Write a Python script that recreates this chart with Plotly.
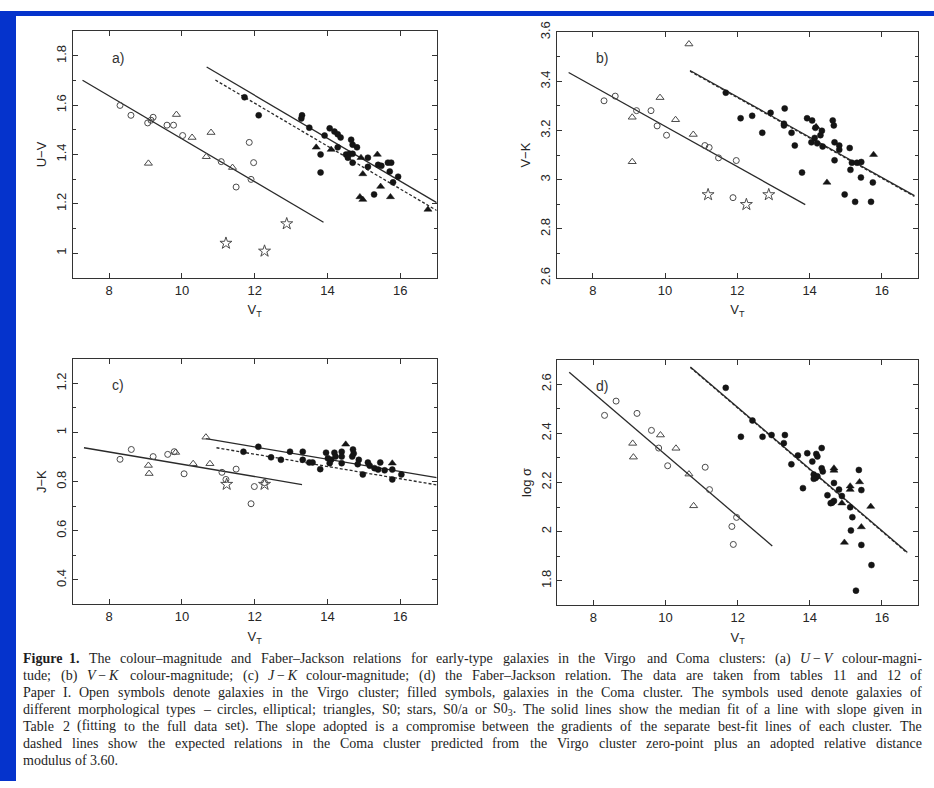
import re
import plotly.graph_objects as go

# ---------------------------------------------------------------
# (a) U-V colour-magnitude
a_virgo_circ_x = [8.30, 8.60, 9.06, 9.15, 9.21, 9.59, 9.77, 10.02, 11.08, 11.85, 11.49, 11.97, 11.90]
a_virgo_circ_y = [1.599, 1.559, 1.528, 1.539, 1.551, 1.519, 1.519, 1.477, 1.371, 1.449, 1.268, 1.367, 1.299]
a_virgo_tri_x = [10.28, 9.85, 10.80, 9.08, 10.67, 11.39]
a_virgo_tri_y = [1.469, 1.562, 1.489, 1.364, 1.391, 1.347]
a_virgo_star_x = [11.21, 12.27, 12.88]
a_virgo_star_y = [1.040, 1.008, 1.119]
a_coma_circ_x = [11.72, 12.11, 13.30, 13.28, 13.50, 14.06, 14.19, 14.28, 14.36, 13.92, 13.81, 14.28,
                 14.65, 14.69, 14.81, 14.51, 14.61, 14.69, 14.56, 15.11, 14.69, 15.39, 15.48, 15.11,
                 15.66, 15.75, 15.71, 15.94, 13.81, 15.80, 15.28]
a_coma_circ_y = [1.632, 1.559, 1.559, 1.546, 1.509, 1.506, 1.493, 1.482, 1.469, 1.477, 1.400, 1.429,
                 1.460, 1.440, 1.429, 1.400, 1.403, 1.403, 1.387, 1.387, 1.367, 1.358, 1.354, 1.350,
                 1.367, 1.367, 1.331, 1.310, 1.327, 1.287, 1.238]
a_coma_tri_x = [13.69, 14.10, 14.92, 15.37, 14.97, 15.46, 14.89, 14.97, 15.73, 16.76]
a_coma_tri_y = [1.429, 1.420, 1.387, 1.400, 1.321, 1.270, 1.228, 1.217, 1.228, 1.177]

# (b) V-K colour-magnitude
b_virgo_circ_x = [8.31, 8.62, 9.21, 9.61, 9.78, 10.04, 11.10, 11.22, 11.48, 11.97, 11.88]
b_virgo_circ_y = [3.321, 3.340, 3.281, 3.281, 3.219, 3.181, 3.139, 3.131, 3.089, 3.078, 2.927]
b_virgo_tri_x = [9.09, 9.86, 10.29, 10.78, 9.09, 10.66]
b_virgo_tri_y = [3.254, 3.334, 3.244, 3.184, 3.073, 3.552]
b_virgo_star_x = [11.19, 12.25, 12.87]
b_virgo_star_y = [2.939, 2.899, 2.939]
b_coma_circ_x = [11.68, 12.09, 12.41, 12.92, 13.31, 12.69, 13.29, 13.29, 13.50, 13.59, 13.79, 13.93,
                 14.07, 14.16, 14.34, 14.30, 14.14, 14.05, 14.21, 14.36, 14.64, 14.67, 14.69, 14.82,
                 14.82, 15.11, 14.69, 15.17, 15.31, 15.43, 15.13, 15.42, 15.75, 14.97, 15.26, 15.70]
b_coma_circ_y = [3.354, 3.250, 3.260, 3.272, 3.290, 3.191, 3.221, 3.228, 3.191, 3.139, 3.029, 3.250,
                 3.241, 3.211, 3.199, 3.181, 3.170, 3.152, 3.148, 3.135, 3.241, 3.221, 3.152, 3.139,
                 3.122, 3.129, 3.079, 3.069, 3.069, 3.072, 3.040, 3.009, 2.989, 2.940, 2.910, 2.910]
b_coma_tri_x = [15.77, 14.48, 14.18]
b_coma_tri_y = [3.102, 2.989, 3.215]

# (c) J-K colour-magnitude
c_virgo_circ_x = [8.30, 8.61, 9.21, 9.61, 9.79, 10.06, 11.10, 11.49, 11.21, 11.99, 11.90, 12.27]
c_virgo_circ_y = [0.891, 0.931, 0.902, 0.911, 0.922, 0.832, 0.838, 0.851, 0.809, 0.780, 0.710, 0.796]
c_virgo_tri_x = [9.08, 9.10, 9.83, 10.31, 10.77, 10.66]
c_virgo_tri_y = [0.866, 0.833, 0.919, 0.873, 0.873, 0.981]
c_virgo_star_x = [11.23, 12.27]
c_virgo_star_y = [0.789, 0.789]
c_coma_circ_x = [11.69, 12.10, 12.45, 12.72, 12.97, 13.32, 13.32, 13.50, 13.59, 13.80, 13.96, 14.01,
                 14.10, 14.06, 14.19, 14.22, 14.39, 14.39, 14.39, 14.70, 14.72, 14.68, 14.86, 14.83,
                 14.97, 15.11, 15.16, 15.29, 15.39, 15.45, 15.57, 15.78, 15.78, 16.03]
c_coma_circ_y = [0.922, 0.942, 0.899, 0.889, 0.922, 0.922, 0.889, 0.878, 0.878, 0.851, 0.918, 0.895,
                 0.889, 0.875, 0.918, 0.902, 0.922, 0.902, 0.875, 0.931, 0.915, 0.902, 0.889, 0.871,
                 0.829, 0.878, 0.865, 0.855, 0.849, 0.878, 0.846, 0.849, 0.809, 0.829]
c_coma_tri_x = [14.50, 15.78]
c_coma_tri_y = [0.952, 0.875]

# (d) Faber-Jackson relation
d_virgo_circ_x = [8.31, 8.63, 9.21, 9.61, 9.81, 10.06, 11.10, 11.22, 11.97, 11.84, 11.88]
d_virgo_circ_y = [2.473, 2.531, 2.481, 2.412, 2.340, 2.268, 2.262, 2.171, 2.058, 2.021, 1.948]
d_virgo_tri_x = [9.86, 9.09, 9.11, 10.29, 10.65, 10.78]
d_virgo_tri_y = [2.393, 2.359, 2.303, 2.339, 2.234, 2.105]
d_coma_circ_x = [11.67, 12.09, 12.41, 12.69, 12.94, 13.31, 13.28, 13.67, 13.49, 13.93, 14.18, 14.21,
                 14.33, 14.07, 14.11, 14.16, 14.21, 14.11, 14.33, 14.36, 13.81, 14.67, 14.81, 14.49,
                 14.58, 14.67, 14.62, 14.89, 15.36, 15.43, 15.12, 15.18, 15.14, 15.43, 15.71, 15.28]
d_coma_circ_y = [2.585, 2.386, 2.452, 2.386, 2.393, 2.393, 2.360, 2.310, 2.274, 2.319, 2.316, 2.306,
                 2.340, 2.285, 2.232, 2.218, 2.225, 2.215, 2.258, 2.245, 2.177, 2.198, 2.171, 2.148,
                 2.116, 2.125, 2.118, 2.145, 2.251, 2.169, 2.099, 2.059, 2.005, 1.946, 1.864, 1.760]
d_coma_tri_x = [14.67, 14.67, 15.12, 15.12, 15.38, 15.69, 15.43, 14.96, 14.89]
d_coma_tri_y = [2.258, 2.249, 2.185, 2.171, 2.202, 2.102, 2.019, 1.956, 2.116]

# Fitted relations: common slope, zero-points, x-extent of each drawn line
slopes = [-0.087, -0.082, -0.025, -0.1255]
virgo_zero = [2.3335, 4.037, 1.1208, 3.568]
virgo_span = [(7.27, 13.89), (7.33, 13.88), (7.31, 13.30), (7.33, 12.96)]
coma_zero = [2.684, 4.321, 1.2415, 4.0116]
coma_span = [(10.68, 17.0), (10.69, 16.9), (10.66, 17.0), (10.69, 16.7)]
pred_zero = [2.652, 4.318, 1.2118, 4.009]
pred_span = [(10.92, 17.0), (10.69, 16.9), (10.95, 17.0), (10.69, 16.7)]

# Axis settings per panel
panel_tags = ["a)", "b)", "c)", "d)"]
y_titles = ["U\u2212V", "V\u2212K", "J\u2212K", "log \u03c3"]
y_ranges = [(0.9, 1.9), (2.5999, 3.6001), (0.3, 1.3), (1.7, 2.7)]
y_ticks = [[1, 1.2, 1.4, 1.6, 1.8], [2.6, 2.8, 3, 3.2, 3.4, 3.6],
           [0.4, 0.6, 0.8, 1, 1.2], [1.8, 2, 2.2, 2.4, 2.6]]
x_ticks = [8, 10, 12, 14, 16]
x_range = (7, 17)

W, H = 934, 788
domains = [
    ((72.7, 436.7), (20.7, 273.0)),
    ((556.7, 918.0), (21.7, 273.3)),
    ((72.7, 436.7), (356.0, 607.3)),
    ((557.3, 918.0), (356.7, 608.3)),
]
tag_pos = [(110, 48), (594, 48), (110, 383), (594, 384)]

panels = [
    (a_virgo_circ_x, a_virgo_circ_y, a_virgo_tri_x, a_virgo_tri_y, a_virgo_star_x, a_virgo_star_y,
     a_coma_circ_x, a_coma_circ_y, a_coma_tri_x, a_coma_tri_y),
    (b_virgo_circ_x, b_virgo_circ_y, b_virgo_tri_x, b_virgo_tri_y, b_virgo_star_x, b_virgo_star_y,
     b_coma_circ_x, b_coma_circ_y, b_coma_tri_x, b_coma_tri_y),
    (c_virgo_circ_x, c_virgo_circ_y, c_virgo_tri_x, c_virgo_tri_y, c_virgo_star_x, c_virgo_star_y,
     c_coma_circ_x, c_coma_circ_y, c_coma_tri_x, c_coma_tri_y),
    (d_virgo_circ_x, d_virgo_circ_y, d_virgo_tri_x, d_virgo_tri_y, [], [],
     d_coma_circ_x, d_coma_circ_y, d_coma_tri_x, d_coma_tri_y),
]

INK = "#2a2a2a"
OPEN_INK = "#4a4a4a"
SANS = "Liberation Sans, Arial, sans-serif"
SERIF = "Liberation Serif, Times New Roman, serif"

fig = go.Figure()

for i, p in enumerate(panels):
    xa = "x" if i == 0 else f"x{i + 1}"
    ya = "y" if i == 0 else f"y{i + 1}"
    vcx, vcy, vtx, vty, vsx, vsy, ccx, ccy, ctx, cty = p

    def add_line(zero, span, dash, width):
        xs = [span[0], span[1]]
        ys = [zero + slopes[i] * v for v in xs]
        fig.add_trace(go.Scatter(x=xs, y=ys, mode="lines", xaxis=xa, yaxis=ya,
                                 line=dict(color=INK, width=width, dash=dash),
                                 hoverinfo="skip", showlegend=False))

    add_line(virgo_zero[i], virgo_span[i], "solid", 1.3)
    add_line(pred_zero[i], pred_span[i], "3px,2px", 1.3)
    add_line(coma_zero[i], coma_span[i], "solid", 1.3)

    def add_pts(xs, ys, symbol, size, color, lw=1.0):
        if not xs:
            return
        fig.add_trace(go.Scatter(x=xs, y=ys, mode="markers", xaxis=xa, yaxis=ya,
                                 marker=dict(symbol=symbol, size=size, color=color,
                                             line=dict(color=color, width=lw)),
                                 showlegend=False))

    add_pts(vcx, vcy, "circle-open", 6, OPEN_INK)
    add_pts(vtx, vty, "triangle-up-open", 7, OPEN_INK)
    add_pts(vsx, vsy, "star-open", 9, OPEN_INK)
    add_pts(ccx, ccy, "circle", 6, "#151515", 0.5)
    add_pts(ctx, cty, "triangle-up", 7, "#151515", 0.5)

    axis_common = dict(showline=True, linecolor="#333", linewidth=1.3, mirror="allticks",
                       ticks="inside", ticklen=5, tickwidth=1, tickcolor="#333",
                       showgrid=False, zeroline=False,
                       tickfont=dict(family=SANS, size=13, color="#262626"))
    (dx, dy) = domains[i]
    sfx = "" if i == 0 else str(i + 1)
    fig.layout[f"xaxis{sfx}"] = dict(
        axis_common, domain=[dx[0] / W, dx[1] / W], range=list(x_range), tickvals=x_ticks,
        anchor=ya, title=dict(text="V<sub>T</sub>", font=dict(family=SANS, size=13, color="#262626"),
                              standoff=8))
    fig.layout[f"yaxis{sfx}"] = dict(
        axis_common, domain=[1 - dy[1] / H, 1 - dy[0] / H], range=list(y_ranges[i]),
        tickvals=y_ticks[i], tickangle=-90, anchor=xa,
        minor=dict(ticks="inside", ticklen=3, dtick=0.1, tickcolor="#333", showgrid=False),
        title=dict(text=y_titles[i], font=dict(family=SANS, size=13, color="#262626"),
                   standoff=4))
    tx, ty = tag_pos[i]
    fig.add_annotation(x=tx / W, y=1 - ty / H, xref="paper", yref="paper",
                       text=panel_tags[i], showarrow=False, xanchor="left", yanchor="middle",
                       font=dict(family=SANS, size=14, color="#333"))

# ---------------------------------------------------------------
# Caption, set justified: each word is placed on its own so that the
# lines run flush from the left margin to the right margin.
caption_lines = [
    "<b>Figure</b> <b>1.</b> The colour\u2013magnitude and Faber\u2013Jackson relations for early-type galaxies in the Virgo and Coma clusters: (a) <i>U</i>\u2009\u2212\u2009<i>V</i> colour-magni-",
    "tude; (b) <i>V</i>\u2009\u2212\u2009<i>K</i> colour-magnitude; (c) <i>J</i>\u2009\u2212\u2009<i>K</i> colour-magnitude; (d) the Faber\u2013Jackson relation. The data are taken from tables 11 and 12 of",
    "Paper I. Open symbols denote galaxies in the Virgo cluster; filled symbols, galaxies in the Coma cluster. The symbols used denote galaxies of",
    "different morphological types \u2013 circles, elliptical; triangles, S0; stars, S0/a or S0<sub>3</sub>. The solid lines show the median fit of a line with slope given in",
    "Table 2 (fitting to the full data set). The slope adopted is a compromise between the gradients of the separate best-fit lines of each cluster. The",
    "dashed lines show the expected relations in the Coma cluster predicted from the Virgo cluster zero-point plus an adopted relative distance",
    "modulus of 3.60.",
]
CAP_SIZE = 14
CAP_LEFT = 22
CAP_RIGHT = 921
CAP_TOP = 663
CAP_STEP = 17.3

# advance widths of the serif face, in 1/1000 em
_adv = {" ": 250, ".": 250, ",": 250, ";": 278, ":": 278, "(": 333, ")": 333, "-": 333,
        "/": 278, "\u2013": 500, "\u2212": 564, "\u2009": 167, "'": 333}
_adv.update({c: 500 for c in "0123456789"})
_adv.update(dict(zip("abcdefghijklmnopqrstuvwxyz",
                     [444, 500, 444, 500, 444, 333, 500, 500, 278, 278, 500, 278, 778,
                      500, 500, 500, 500, 333, 389, 278, 500, 500, 722, 500, 500, 444])))
_adv.update(dict(zip("ABCDEFGHIJKLMNOPQRSTUVWXYZ",
                     [722, 667, 667, 722, 611, 556, 722, 722, 333, 389, 722, 611, 889,
                      722, 722, 556, 722, 667, 556, 611, 722, 722, 944, 722, 722, 611])))


def word_width(word):
    plain = re.sub(r"<sub>(.*?)</sub>", lambda m: "\u2009" * len(m.group(1)) * 2, word)
    plain = re.sub(r"<[^>]+>", "", plain)
    return sum(_adv.get(ch, 500) for ch in plain) * CAP_SIZE / 1000.0


for k, line in enumerate(caption_lines):
    words = line.split(" ")
    widths = [word_width(w) for w in words]
    yk = 1 - (CAP_TOP + CAP_STEP * k) / H
    if k < len(caption_lines) - 1 and len(words) > 1:
        gap = (CAP_RIGHT - CAP_LEFT - sum(widths)) / (len(words) - 1)
    else:
        gap = 250 * CAP_SIZE / 1000.0
    xpos = CAP_LEFT
    for w, wd in zip(words, widths):
        fig.add_annotation(x=xpos / W, y=yk, xref="paper", yref="paper",
                           text=w, showarrow=False, xanchor="left", yanchor="middle",
                           borderpad=0, font=dict(family=SERIF, size=CAP_SIZE, color="#1e1e1e"))
        xpos += wd + gap

# Blue frame strips at the left and top edges
fig.add_shape(type="rect", xref="paper", yref="paper", x0=0, x1=16 / W, y0=0, y1=1,
              fillcolor="#0533cc", line=dict(width=0), layer="below")
fig.add_shape(type="rect", xref="paper", yref="paper", x0=0, x1=1, y0=1 - 5 / H, y1=1,
              fillcolor="#0533cc", line=dict(width=0), layer="below")

fig.update_layout(width=W, height=H, margin=dict(l=0, r=0, t=0, b=0),
                  paper_bgcolor="white", plot_bgcolor="white", showlegend=False)

fig.write_html("out.html")
